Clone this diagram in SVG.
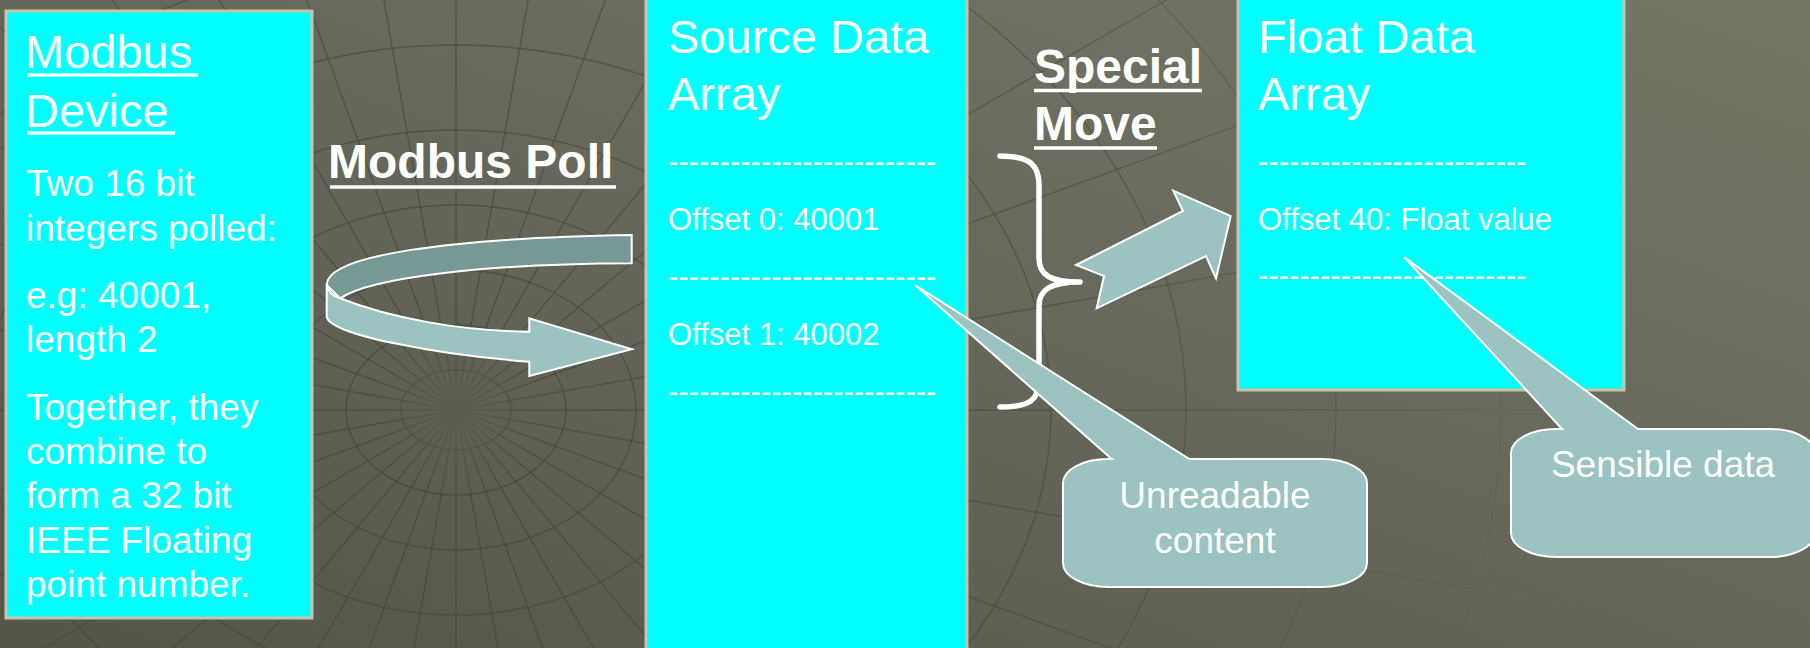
<svg xmlns="http://www.w3.org/2000/svg" width="1810" height="648" viewBox="0 0 1810 648">
  <defs>
    <linearGradient id="bg" x1="0" y1="1" x2="1" y2="0">
      <stop offset="0" stop-color="#55564a"/>
      <stop offset="1" stop-color="#757767"/>
    </linearGradient>
    <radialGradient id="fade" cx="456" cy="410" r="1150" gradientUnits="userSpaceOnUse">
      <stop offset="0" stop-color="#fff" stop-opacity="0.15"/>
      <stop offset="0.07" stop-color="#fff" stop-opacity="0.9"/>
      <stop offset="0.55" stop-color="#fff" stop-opacity="0.75"/>
      <stop offset="1" stop-color="#fff" stop-opacity="0"/>
    </radialGradient>
    <mask id="webMask">
      <rect width="1810" height="648" fill="url(#fade)"/>
    </mask>
    <style>
      .web { fill:none; stroke:#45473b; stroke-width:1.4; opacity:0.75 }
      .box { fill:#00ffff; stroke:#c9c3a6; stroke-width:3 }
      .t { font-family:"Liberation Sans", Arial, sans-serif; fill:#ffffff }
      .title { font-size:47px }
      .body { font-size:37px }
      .small { font-size:31px }
      .bold { font-size:48px; font-weight:bold }
      .ul { stroke:#ffffff; stroke-width:3.6; fill:none }
      .callout { fill:#9ac3c2; stroke:#ffffff; stroke-width:2 }
      .band-back { fill:#789896; stroke:#ffffff; stroke-width:2 }
      .band-front { fill:#9ac3c2; stroke:#ffffff; stroke-width:2 }
      .brace { fill:none; stroke:#ffffff; stroke-width:5.5; stroke-linecap:round; stroke-linejoin:round }
    </style>
  </defs>

  <!-- backdrop with a warped polar web -->
  <g id="background">
    <rect width="1810" height="648" fill="url(#bg)"/>
    <g mask="url(#webMask)">
      <path class="web" d="
        M456,410 l1500,0 M456,410 l1477,260 M456,410 l1410,513 M456,410 l1299,750 M456,410 l1149,964
        M456,410 l964,1149 M456,410 l750,1299 M456,410 l513,1410 M456,410 l260,1477 M456,410 l0,1500
        M456,410 l-260,1477 M456,410 l-513,1410 M456,410 l-750,1299 M456,410 l-964,1149 M456,410 l-1149,964
        M456,410 l-1299,750 M456,410 l-1410,513 M456,410 l-1477,260 M456,410 l-1500,0
        M456,410 l-1477,-260 M456,410 l-1410,-513 M456,410 l-1299,-750 M456,410 l-1149,-964
        M456,410 l-964,-1149 M456,410 l-750,-1299 M456,410 l-513,-1410 M456,410 l-260,-1477 M456,410 l0,-1500
        M456,410 l260,-1477 M456,410 l513,-1410 M456,410 l750,-1299 M456,410 l964,-1149 M456,410 l1149,-964
        M456,410 l1299,-750 M456,410 l1410,-513 M456,410 l1477,-260"/>
      <g class="web">
        <ellipse cx="456" cy="410" rx="55" ry="40"/>
        <ellipse cx="456" cy="410" rx="110" ry="85"/>
        <ellipse cx="456" cy="410" rx="180" ry="140"/>
        <ellipse cx="456" cy="410" rx="265" ry="205"/>
        <ellipse cx="456" cy="410" rx="360" ry="280"/>
        <ellipse cx="456" cy="410" rx="470" ry="365"/>
        <ellipse cx="456" cy="410" rx="595" ry="460"/>
        <ellipse cx="456" cy="410" rx="730" ry="565"/>
        <ellipse cx="456" cy="410" rx="880" ry="680"/>
        <ellipse cx="456" cy="410" rx="1045" ry="805"/>
      </g>
    </g>
  </g>

  <!-- Modbus Device -->
  <g id="modbus-device">
    <rect class="box" x="6" y="11" width="306" height="607"/>
    <text class="t title" x="25" y="68">Modbus</text>
    <line class="ul" x1="27" y1="75" x2="198" y2="75"/>
    <text class="t title" x="25" y="127">Device</text>
    <line class="ul" x1="27" y1="133" x2="175" y2="133"/>
    <text class="t body" x="26" y="196">Two 16 bit</text>
    <text class="t body" x="26" y="241">integers polled:</text>
    <text class="t body" x="26" y="308">e.g: 40001,</text>
    <text class="t body" x="26" y="352">length 2</text>
    <text class="t body" x="26" y="420">Together, they</text>
    <text class="t body" x="26" y="464">combine to</text>
    <text class="t body" x="26" y="508">form a 32 bit</text>
    <text class="t body" x="26" y="553">IEEE Floating</text>
    <text class="t body" x="26" y="597">point number.</text>
  </g>

  <!-- Source Data Array -->
  <g id="source-array">
    <rect class="box" x="646" y="-5" width="321" height="665"/>
    <text class="t title" x="668" y="53">Source Data</text>
    <text class="t title" x="668" y="110">Array</text>
    <text class="t small" x="668" y="172">--------------------------</text>
    <text class="t small" x="668" y="230">Offset 0: 40001</text>
    <text class="t small" x="668" y="287">--------------------------</text>
    <text class="t small" x="668" y="345">Offset 1: 40002</text>
    <text class="t small" x="668" y="402">--------------------------</text>
  </g>

  <!-- Float Data Array -->
  <g id="float-array">
    <rect class="box" x="1238" y="-5" width="386" height="395"/>
    <text class="t title" x="1258" y="53">Float Data</text>
    <text class="t title" x="1258" y="110">Array</text>
    <text class="t small" x="1258" y="172">--------------------------</text>
    <text class="t small" x="1258" y="230">Offset 40: Float value</text>
    <text class="t small" x="1258" y="286">--------------------------</text>
  </g>

  <!-- connectors: poll loop, grouping brace, move arrow -->
  <g id="connectors">
    <path class="band-back" d="M631.7,235 L631.7,263.3 C480,264 370,278 340,298.3 L326.7,285 C326.7,255 450,238 631.7,235 Z"/>
    <path class="band-front" d="M326.7,284 C328,292 333,296 340,298.3 C390,318 460,331 529.3,331.7 L529.3,318.3 L631.7,349.3 L529.3,376 L529.3,361.7 C440,355 330,335 326.7,316.7 Z"/>
    <path class="brace" d="M1000,156 C1030,156 1039,165 1039,185 L1039,258 C1039,275 1050,282 1080,282 C1050,282 1039,290 1039,306 L1039,380 C1039,400 1030,407 1000,407"/>
    <path class="band-front" d="M1076,265 L1183,211 L1173.3,190.7 L1230.7,216 L1216,278.3 L1206,256 L1096.7,308.3 L1104,276 Z"/>
  </g>

  <!-- labels on the connectors -->
  <g id="label-poll">
    <text class="t bold" x="328" y="178">Modbus Poll</text>
    <line class="ul" x1="330" y1="187" x2="616" y2="187"/>
  </g>
  <g id="label-move">
    <text class="t bold" x="1034" y="83">Special</text>
    <line class="ul" x1="1034" y1="90.5" x2="1202" y2="90.5"/>
    <text class="t bold" x="1034" y="140">Move</text>
    <line class="ul" x1="1034" y1="148" x2="1157" y2="148"/>
  </g>

  <!-- callouts -->
  <g id="callout-unreadable">
    <path class="callout" d="M1108,459 L1111.7,459 L915,285 L1189.3,459 L1322,459 A45,24 0 0 1 1367,483 L1367,563 A45,24 0 0 1 1322,587 L1108,587 A45,24 0 0 1 1063,563 L1063,483 A45,24 0 0 1 1108,459 Z"/>
    <text class="t body" x="1215" y="508" text-anchor="middle">Unreadable</text>
    <text class="t body" x="1215" y="552.5" text-anchor="middle">content</text>
  </g>
  <g id="callout-sensible">
    <path class="callout" d="M1556,429 L1562,429 L1404,257 L1638,429 L1770,429 A45,24 0 0 1 1815,453 L1815,533 A45,24 0 0 1 1770,557 L1556,557 A45,24 0 0 1 1511,533 L1511,453 A45,24 0 0 1 1556,429 Z"/>
    <text class="t body" x="1663" y="477" text-anchor="middle">Sensible data</text>
  </g>
</svg>
